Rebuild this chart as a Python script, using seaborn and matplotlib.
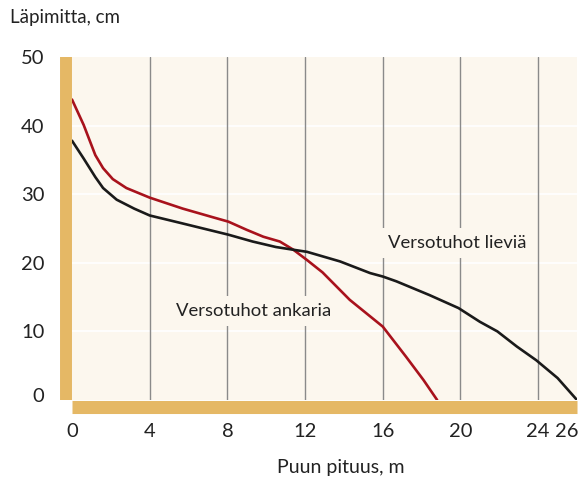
import matplotlib
matplotlib.use('Agg')
import matplotlib.pyplot as plt
import matplotlib.transforms as mtransforms
import seaborn as sns

# Versotuhot ankaria (severe shoot damage)
red_x = [0, 0.6, 1.2, 1.6, 2.1, 2.8, 4.0, 5.7, 7.3, 8.05, 9.0, 9.85, 10.7, 11.4, 12.1, 12.9, 14.3, 16.0, 17.2, 18.1, 18.8]
red_y = [43.8, 40.1, 35.7, 33.8, 32.2, 30.9, 29.5, 27.9, 26.6, 26.0, 24.8, 23.8, 23.1, 21.9, 20.4, 18.6, 14.6, 10.7, 6.3, 2.9, 0.0]

# Versotuhot lieviä (mild shoot damage)
black_x = [0, 0.6, 1.2, 1.6, 2.3, 3.2, 4.0, 5.6, 8.05, 9.3, 10.5, 11.4, 12.1, 13.8, 15.35, 16.0, 16.7, 18.4, 19.9, 21.0, 21.9, 22.9, 23.9, 25.0, 26.0]
black_y = [37.8, 35.2, 32.5, 30.9, 29.2, 27.9, 26.9, 25.8, 24.1, 23.1, 22.3, 21.9, 21.6, 20.2, 18.5, 18.0, 17.3, 15.3, 13.4, 11.4, 10.0, 7.8, 5.8, 3.2, 0.0]

x_ticks = [0, 4, 8, 12, 16, 20, 24, 26]
x_grid = [4, 8, 12, 16, 20, 24]
y_ticks = [0, 10, 20, 30, 40, 50]
y_grid = [10, 20, 30, 40]

bg = '#FCF7EE'
bar = '#E5B865'
ink = '#222222'

sns.set_theme(style='white', rc={'axes.facecolor': bg, 'figure.facecolor': 'white'})
plt.rcParams['font.family'] = ['Lato', 'DejaVu Sans']

fig = plt.figure(figsize=(5.87, 4.8), dpi=100)
ax = fig.add_axes([72/587, 80/480, 505/587, 343/480])

for y in y_grid:
    ax.axhline(y, color='white', lw=1.2, zorder=1)
for x in x_grid:
    ax.axvline(x, color='#8a8a8a', lw=1.0, zorder=1)

sns.lineplot(x=red_x, y=red_y, color='#A8121C', lw=1.9, ax=ax, zorder=4)
sns.lineplot(x=black_x, y=black_y, color='#1A1A1A', lw=1.9, ax=ax, zorder=4)

ax.set_xlim(0, 26)
ax.set_ylim(0, 50)
ax.set_xticks(x_ticks)
ax.set_yticks(y_ticks)
ax.set_xlabel('')
ax.set_ylabel('')

for s in ['top', 'right']:
    ax.spines[s].set_visible(False)
ax.spines['left'].set_position(('outward', 4.3))
ax.spines['left'].set_linewidth(8.6)
ax.spines['left'].set_color(bar)
ax.spines['left'].set_capstyle('butt')
ax.spines['bottom'].set_position(('outward', 4.7))
ax.spines['bottom'].set_linewidth(9.4)
ax.spines['bottom'].set_color(bar)
ax.spines['bottom'].set_capstyle('butt')

ax.tick_params(axis='y', direction='in', length=4.3, width=1.5, color='white',
               pad=15.5, labelsize=14.5, labelcolor=ink)
ax.tick_params(axis='x', direction='in', length=4.7, width=1.5, color='white',
               pad=12, labelsize=14.5, labelcolor=ink)
xt = ax.xaxis.get_major_ticks()
for t in (xt[0], xt[-1]):
    t.tick1line.set_visible(False)
yt = ax.yaxis.get_major_ticks()
for t in (yt[0], yt[-1]):
    t.tick1line.set_visible(False)
ax.get_xticklabels()[-1].set_horizontalalignment('right')
lab0 = yt[0].label1
lab0.set_transform(lab0.get_transform() + mtransforms.ScaledTranslation(0, 5/100, fig.dpi_scale_trans))
lab26 = xt[-1].label1
lab26.set_transform(lab26.get_transform() + mtransforms.ScaledTranslation(2/100, 0, fig.dpi_scale_trans))

ax.text(16.27, 22.9, 'Versotuhot lieviä', ha='left', va='center', fontsize=13.3,
        color=ink, zorder=3,
        bbox=dict(boxstyle='square,pad=0.4', fc=bg, ec='none'))
ax.text(5.36, 12.97, 'Versotuhot ankaria', ha='left', va='center', fontsize=13.3,
        color=ink, zorder=3,
        bbox=dict(boxstyle='square,pad=0.4', fc=bg, ec='none'))

fig.text(10/587, 1 - 18/480, 'Läpimitta, cm', ha='left', va='center', fontsize=13.5, color=ink)
fig.text(341/587, 1 - 467/480, 'Puun pituus, m', ha='center', va='center', fontsize=14, color=ink)

fig.savefig('out.png', dpi=100)
